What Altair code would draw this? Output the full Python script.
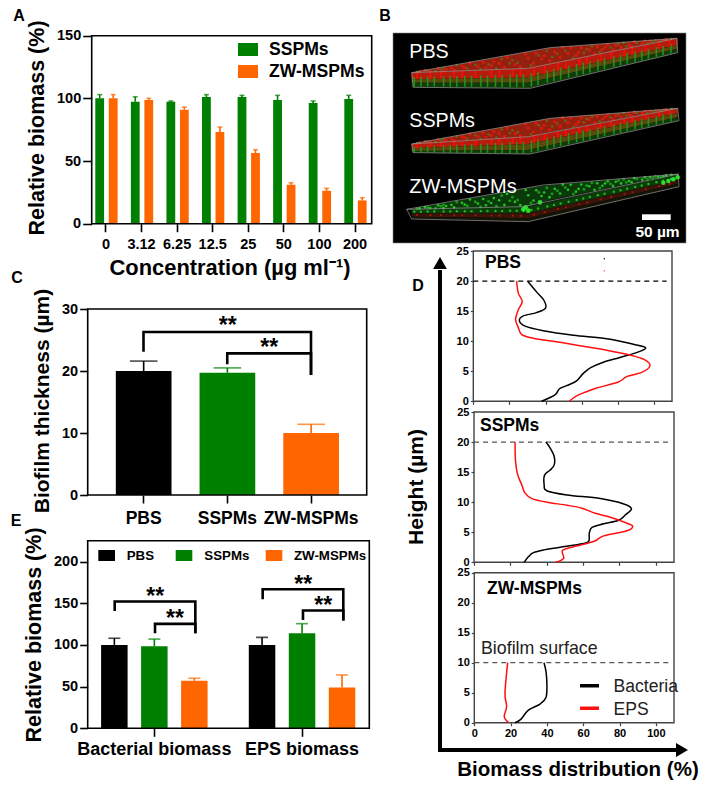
import altair as alt
import numpy as np
import pandas as pd

# ---------- values ----------
conc = ["0", "3.12", "6.25", "12.5", "25", "50", "100", "200"]
a_green = [100, 97.3, 97.3, 101, 101, 98.7, 96.3, 99.5]
a_green_err = [103, 101.3, 97.9, 103, 102.4, 102.4, 97.9, 102.4]
a_orange = [100, 98.7, 91, 73.1, 56.4, 31.1, 26.3, 18.6]
a_orange_err = [103, 100, 93, 77.1, 59, 32.7, 28.2, 20.7]

c_groups = ["PBS", "SSPMs", "ZW-MSPMs"]
c_vals = [20, 19.7, 10]
c_errs = [21.6, 20.5, 11.4]

e_groups = ["Bacterial biomass", "EPS biomass"]
e_pbs = [100, 100]
e_pbs_err = [108, 109]
e_ssp = [98.5, 114]
e_ssp_err = [107, 125.5]
e_zw = [57, 49]
e_zw_err = [60, 64]

d_pbs_bact_h = [0, 1.05, 2.05, 2.6, 3.4, 4.65, 5.6, 6.5, 7.3, 8.1, 8.9, 9.5, 10.4, 11, 11.75, 12.5, 13.4, 14.2, 14.75, 15.5, 16.85, 18.2, 20]
d_pbs_bact_v = [37.8, 45.2, 47.6, 51.7, 57.2, 60.9, 65, 72, 81.2, 90.4, 95.4, 88.6, 73.8, 55.4, 38.7, 28.6, 25.5, 27.7, 35, 40, 39, 35, 30]
d_pbs_eps_h = [0, 0.9, 1.6, 2.2, 3.2, 4.1, 4.8, 5.9, 6.9, 7.7, 8.5, 9.25, 9.9, 10.5, 11.1, 12.3, 13.6, 15.2, 16.6, 18, 20]
d_pbs_eps_v = [53.1, 57.2, 62.7, 68.3, 80.3, 84.9, 93.2, 97.8, 95, 86.7, 73.8, 59, 46, 33.2, 26.8, 24.9, 23.4, 24.9, 27.1, 24.9, 24]
d_ssp_bact_h = [0, 0.95, 1.6, 2.05, 2.5, 3.05, 3.45, 4.8, 5.8, 6.4, 7, 7.9, 8.9, 9.7, 10.6, 11.2, 11.9, 12.85, 14.5, 15.35, 16.2, 17.6, 19, 20]
d_ssp_bact_v = [27.6, 30, 32.7, 38.2, 47.4, 58.5, 63, 63.4, 64.9, 71.3, 79.6, 83.3, 86.6, 82.4, 69.5, 51.1, 40, 38.6, 38.8, 41.9, 44.1, 44.1, 41.9, 39.5]
d_ssp_eps_h = [0, 0.65, 1.95, 2.6, 3.45, 4.4, 5.25, 6, 6.5, 7.5, 8.15, 9, 9.5, 10, 10.6, 11.5, 12.85, 14.7, 17, 20]
d_ssp_eps_v = [44.9, 49.3, 48.7, 54.8, 65.8, 71.3, 84.2, 87.3, 84.2, 75, 66.7, 59.4, 51.1, 40, 31.8, 28.1, 26.3, 23.9, 22.8, 22.6]
d_zw_bact_h = [0, 0.55, 2.1, 3.1, 4.2, 6.3, 8.5, 10]
d_zw_bact_v = [22.4, 25.6, 29.8, 36.2, 39.5, 40, 39.5, 38.4]
d_zw_eps_h = [0, 1, 2.7, 4.9, 10]
d_zw_eps_v = [18.9, 16.5, 17.8, 16.9, 18.4]
d_pbs_dots_v = [72.5]
d_pbs_dots_black_h = [23.7]
d_pbs_dots_red_h = [21.7]

# brackets: position along the bars, height on the panel's value axis
c_br1_x = [0, 0, 2, 2]
c_br1_y = [23.1, 26.3, 26.3, 19.35]
c_br2_x = [1, 1, 2, 2]
c_br2_y = [21.1, 22.85, 22.85, 19.35]
e_br_x = [[0, 0, 2, 2], [1, 1, 2, 2], [3.67, 3.67, 5.67, 5.67], [4.67, 4.67, 5.67, 5.67]]
e_br_y = [[140.8, 152, 152, 114], [114, 125.2, 125.2, 114], [154.8, 166.8, 166.8, 129.2], [130, 141.2, 141.2, 129.2]]

# micrograph shapes, traced in the picture's own coordinates
pic_x = [95, 445, 893]
top_x = [95, 445, 510, 890]
slabs = {
    "PBS": dict(top1=[218, 155, 143, 115], top2=[218, 205, 192, 115],
                f=[[218, 205, 115], [238, 232, 135], [248, 248, 146], [262, 265, 158]]),
    "SSPMs": dict(top1=[432, 367, 355, 325], top2=[432, 410, 397, 325],
                  f=[[432, 410, 325], [445, 432, 340], [453, 450, 352], [458, 462, 362]]),
    "ZW": dict(top1=[628, 563, 555, 522], top2=[628, 620, 600, 522],
               f=[[628, 620, 522], [640, 640, 540], [650, 655, 552], [657, 665, 560]]),
}
outline_x = {"PBS": [95, 510, 890, 893, 450, 100, 95, 445, 890],
             "SSPMs": [95, 510, 893, 897, 450, 100, 95, 445, 893],
             "ZW": [80, 490, 895, 897, 445, 95, 80, 430, 895]}
outline_y = {"PBS": [218, 143, 115, 158, 265, 262, 218, 205, 115],
             "SSPMs": [432, 355, 325, 362, 462, 458, 432, 410, 325],
             "ZW": [628, 555, 522, 560, 665, 657, 628, 620, 522]}
# hand-placed texture marks: (position along slab, position across face)
top_marks = [(.03, .4), (.07, .7), (.1, .2), (.13, .55), (.16, .85), (.19, .35), (.22, .1), (.25, .6), (.28, .8),
             (.31, .3), (.33, .5), (.36, .15), (.39, .7), (.41, .9), (.44, .4), (.47, .2), (.49, .6), (.52, .8),
             (.54, .3), (.57, .05), (.59, .5), (.62, .75), (.64, .2), (.67, .45), (.69, .9), (.72, .6), (.74, .15),
             (.77, .35), (.79, .7), (.82, .5), (.84, .1), (.87, .65), (.9, .3), (.93, .5), (.96, .4), (.05, .15),
             (.12, .9), (.2, .6), (.27, .25), (.35, .85), (.43, .1), (.5, .42), (.56, .68), (.63, .55), (.7, .25),
             (.76, .85), (.83, .8), (.88, .15), (.95, .7), (.15, .45), (.3, .65), (.46, .75), (.6, .12), (.73, .38)]
top_marks2 = [(.02, .6), (.06, .3), (.09, .8), (.12, .25), (.17, .15), (.21, .75), (.24, .4), (.29, .5), (.32, .9),
              (.34, .2), (.38, .4), (.4, .6), (.45, .85), (.48, .35), (.51, .15), (.53, .6), (.58, .3), (.61, .9),
              (.65, .65), (.68, .15), (.71, .8), (.75, .5), (.78, .2), (.81, .65), (.85, .35), (.89, .75), (.92, .2),
              (.94, .85), (.98, .5), (.11, .5), (.26, .9), (.37, .6), (.55, .45), (.66, .35), (.8, .1), (.91, .6)]
streaks = [.01, .035, .06, .085, .12, .145, .17, .2, .225, .26, .285, .315, .34, .37, .395, .42, .45, .475, .51,
           .535, .56, .59, .62, .645, .67, .7, .725, .76, .785, .81, .84, .865, .89, .92, .945, .975]
red_streaks = [.02, .07, .11, .16, .19, .24, .3, .33, .38, .41, .46, .5, .55, .58, .63, .66, .71, .75, .8, .83, .88, .93, .97]

BLACK = "#000000"
GREEN = "#008000"
ORANGE = "#FF6600"
RED = "#FF1010"
FONT = "Liberation Sans"
W, H = 696, 774
M = 8
layers = []
one = pd.DataFrame({"a": [0]})


def X(v):
    return v - M


def Y(v):
    return v - M


def rect(x0, x1, y0, y1, **kw):
    layers.append(alt.Chart(one).mark_rect(**kw).encode(
        x=alt.value(X(x0)), x2=alt.value(X(x1)), y=alt.value(Y(y0)), y2=alt.value(Y(y1))))


def frame(x0, x1, y0, y1, color="black", width=1.6):
    rect(x0, x1, y0, y1, filled=False, stroke=color, strokeWidth=width)


def text(s, x, y, size=14, weight="bold", color="black", angle=0, align="center", baseline="middle"):
    kw = dict(fontSize=size, fontWeight=weight, font=FONT, color=color, align=align, baseline=baseline, text=s)
    if angle:
        kw["angle"] = angle
    layers.append(alt.Chart(one).mark_text(**kw).encode(x=alt.value(X(x)), y=alt.value(Y(y))))


def stars(x, y):
    text("**", x, y + 12.5, size=23, baseline="alphabetic")


def yaxis(x0, values, size, tick=8, color="black", width=1.6, pad=2):
    return alt.Axis(orient="left", offset=-X(x0), values=values, title=None, grid=False, domain=False,
                    tickSize=tick, tickWidth=width, tickColor=color, labelFont=FONT, labelFontWeight="bold",
                    labelFontSize=size, labelColor="black", labelPadding=pad, labelOverlap=False, labelBound=False,
                    labelFlush=False)


def band(cats, a, b):
    return alt.Scale(type="band", domain=cats, range=[X(a), X(b)], paddingInner=0, paddingOuter=0)


def bars(cats, domain, vals, errs, a, b, ysc, color, width, cap, errw=1.6):
    xsc = band(domain, a, b)
    df = pd.DataFrame({"c": cats, "v": vals, "e": errs})
    layers.append(alt.Chart(df).mark_rule(color=color, strokeWidth=errw).encode(
        x=alt.X("c:N", scale=xsc, sort=domain, axis=None), y=alt.Y("v:Q", scale=ysc, axis=None), y2="e:Q"))
    layers.append(alt.Chart(df).mark_tick(color=color, orient="horizontal", size=cap, thickness=errw).encode(
        x=alt.X("c:N", scale=xsc, sort=domain, axis=None), y=alt.Y("e:Q", scale=ysc, axis=None)))
    layers.append(alt.Chart(df).mark_bar(color=color, width=width).encode(
        x=alt.X("c:N", scale=xsc, sort=domain, axis=None), y=alt.Y("v:Q", scale=ysc, axis=None)))


def axes_only(cats, vals, xsc, ysc, axx, axy):
    df = pd.DataFrame({"c": cats, "v": vals})
    layers.append(alt.Chart(df).mark_point(opacity=0).encode(
        x=alt.X("c:N", scale=xsc, sort=cats, axis=axx), y=alt.Y("v:Q", scale=ysc, axis=axy)))


def path(xs, ys, xsc, ysc, color="black", width=2.6, dash=None, interp=None):
    df = pd.DataFrame({"x": xs, "y": ys, "o": range(len(xs))})
    kw = dict(color=color, strokeWidth=width, strokeJoin="miter", clip=False)
    if dash:
        kw["strokeDash"] = dash
    if interp:
        kw["interpolate"] = interp
        kw["strokeJoin"] = "round"
    layers.append(alt.Chart(df).mark_line(**kw).encode(
        x=alt.X("x:Q", scale=xsc, axis=None), y=alt.Y("y:Q", scale=ysc, axis=None), order="o:Q"))


def xaxis(y0, values=None, size=14.5, tick=8, color="black", width=1.6, pad=3, labels=True):
    kw = dict(orient="bottom", offset=Y(y0) - H, title=None, grid=False, domain=False, tickSize=tick,
              tickWidth=width, tickColor=color, labelAngle=0, labelFont=FONT, labelFontWeight="bold",
              labelFontSize=size, labelColor="black", labelPadding=pad, labelOverlap=False, labelBound=False,
              labelFlush=False, labelLimit=0, labels=labels)
    if values is not None:
        kw["values"] = values
    return alt.Axis(**kw)


# ---------- panel A ----------
ax0, ax1, ay0, ay1 = 91.7, 371.7, 223.7, 35.7
ya = alt.Scale(domain=[0, 150], range=[Y(ay0), Y(ay1)], zero=False, nice=False)
axes_only(conc, a_green, band(conc, 88.2, 372.8), ya, xaxis(ay0, size=14.5, pad=6),
          yaxis(ax0, [0, 50, 100, 150], 14.5, tick=9))
bars(conc, conc, a_green, a_green_err, 88.2 - 6.3, 372.8 - 6.3, ya, GREEN, 8.8, 5)
bars(conc, conc, a_orange, a_orange_err, 88.2 + 7.2, 372.8 + 7.2, ya, ORANGE, 8.8, 5)
frame(ax0, ax1, ay0, ay1)
rect(238, 258, 43, 56, fill=GREEN)
rect(238, 258, 65, 78, fill=ORANGE)
text("SSPMs", 269, 50, size=17.6, align="left")
text("ZW-MSPMs", 269, 72, size=17.6, align="left")
text("Relative biomass (%)", 38, 128, size=21.5, angle=270)
text("Concentration (µg ml⁻¹)", 230, 268, size=21.9)

# ---------- panel C ----------
cx0, cx1, cy0, cy1 = 87.7, 366.7, 495, 309
yc = alt.Scale(domain=[0, 30], range=[Y(cy0), Y(cy1)], zero=False, nice=False)
xbc = alt.Scale(domain=[0, 2], range=[X(143.5), X(311)], zero=False, nice=False)
axes_only(c_groups, c_vals, band(c_groups, 101.8, 353), yc, xaxis(cy0, size=17.5, tick=8, pad=6),
          yaxis(cx0, [0, 10, 20, 30], 14.5, tick=8))
for g, col in zip(range(3), [BLACK, GREEN, ORANGE]):
    bars([c_groups[g]], c_groups, [c_vals[g]], [c_errs[g]], 101.8, 353, yc, col, 55.7, 27.6)
frame(cx0, cx1, cy0, cy1)
path(c_br1_x, c_br1_y, xbc, yc)
path(c_br2_x, c_br2_y, xbc, yc)
stars(227.7, 320.7)
stars(269.3, 342.7)
text("Biofilm thickness (µm)", 43, 401, size=21, angle=270)

# ---------- panel E ----------
ex0, ex1, ey0, ey1 = 87.7, 369.3, 728.3, 540.7
ye = alt.Scale(domain=[0, 225], range=[Y(ey0), Y(ey1)], zero=False, nice=False)
xbe = alt.Scale(domain=[0, 5.67], range=[X(114.7), X(343.3)], zero=False, nice=False)
axes_only(e_groups, e_pbs, band(e_groups, 80.5, 375.9), ye, xaxis(ey0, size=18, tick=8, pad=4),
          yaxis(ex0, [0, 50, 100, 150, 200], 14.5, tick=8))
bars(e_groups, e_groups, e_pbs, e_pbs_err, 80.5 - 40, 375.9 - 40, ye, BLACK, 26.5, 12)
bars(e_groups, e_groups, e_ssp, e_ssp_err, 80.5, 375.9, ye, GREEN, 26.5, 12)
bars(e_groups, e_groups, e_zw, e_zw_err, 80.5 + 40, 375.9 + 40, ye, ORANGE, 26.5, 12)
frame(ex0, ex1, ey0, ey1)
for bx, by in zip(e_br_x, e_br_y):
    path(bx, by, xbe, ye)
stars(155.3, 591.7)
stars(175, 613.3)
stars(303.3, 579.3)
stars(323.3, 600)
rect(98.3, 115, 550, 561, fill=BLACK)
rect(175.7, 192.3, 550, 561, fill=GREEN)
rect(265.7, 282.3, 550, 561, fill=ORANGE)
text("PBS", 126.7, 556, size=13.3, align="left")
text("SSPMs", 204.3, 556, size=13.3, align="left")
text("ZW-MSPMs", 294, 556, size=13.3, align="left")
text("Relative biomass (%)", 35, 635, size=21.5, angle=270)

# ---------- panel B ----------
rect(393, 686, 33, 243, fill="#000000", stroke="#888888", strokeWidth=0.6)
px = alt.Scale(domain=[0, 996], range=[X(380), X(712)], zero=False, nice=False)
py = alt.Scale(domain=[0, 750], range=[Y(0), Y(250)], zero=False, nice=False)


def area(xs, y1, y2, color):
    df = pd.DataFrame({"x": xs, "y": y1, "y2": y2})
    layers.append(alt.Chart(df).mark_area(color=color).encode(
        x=alt.X("x:Q", scale=px, axis=None), y=alt.Y("y:Q", scale=py, axis=None), y2="y2:Q"))


def specks(xs, ys, color, size, opacity=0.9):
    df = pd.DataFrame({"x": xs, "y": ys})
    layers.append(alt.Chart(df).mark_point(filled=True, color=color, size=size, opacity=opacity, shape="circle").encode(
        x=alt.X("x:Q", scale=px, axis=None), y=alt.Y("y:Q", scale=py, axis=None)))


def ticks_down(xs, y1, y2, color, width, opacity=0.85):
    df = pd.DataFrame({"x": xs, "y": y1, "y2": y2})
    layers.append(alt.Chart(df).mark_rule(color=color, strokeWidth=width, opacity=opacity).encode(
        x=alt.X("x:Q", scale=px, axis=None), y=alt.Y("y:Q", scale=py, axis=None), y2="y2:Q"))


def face_marks(s, marks):
    xs = [95 + u * 795 for u, v in marks]
    ys = [np.interp(x, top_x, s["top1"]) * (1 - v) + np.interp(x, top_x, s["top2"]) * v
          for x, (u, v) in zip(xs, marks)]
    return xs, ys


for name in ["PBS", "SSPMs", "ZW"]:
    s = slabs[name]
    f = s["f"]
    if name == "ZW":
        area(top_x, s["top1"], s["top2"], "#0a3a0a")
        area(pic_x, f[0], f[1], "#0a3c0a")
        area(pic_x, f[1], f[2], "#3a1408")
        area(pic_x, f[2], f[3], "#141408")
        sx = [95 + u * 798 for u in streaks]
        xs, ys = face_marks(s, top_marks)
        specks(xs, ys, "#28d028", 7)
        xs, ys = face_marks(s, top_marks2)
        specks(xs, ys, "#18a018", 9)
        specks(sx, [np.interp(x, pic_x, f[0]) * .4 + np.interp(x, pic_x, f[1]) * .6 for x in sx], "#28c028", 6)
        specks([95 + u * 798 for u in red_streaks],
               [np.interp(95 + u * 798, pic_x, f[1]) * .5 + np.interp(95 + u * 798, pic_x, f[2]) * .5 for u in red_streaks],
               "#b01808", 5)
        specks([430, 437, 445, 480], [628, 622, 632, 607], "#30f030", 22)
    else:
        area(top_x, s["top1"], s["top2"], "#96200f")
        area(pic_x, f[0], f[1], "#b81a0e")
        area(pic_x, f[1], f[2], "#5a4a10")
        area(pic_x, f[2], f[3], "#103c0a")
        xs, ys = face_marks(s, top_marks)
        specks(xs, ys, "#d81c10", 12)
        xs, ys = face_marks(s, top_marks2)
        specks(xs, ys, "#5e6a18", 7)
        sx = [95 + u * 798 for u in streaks]
        ticks_down(sx, [np.interp(x, pic_x, f[0]) * .35 + np.interp(x, pic_x, f[1]) * .65 for x in sx],
                   [np.interp(x, pic_x, f[3]) * .8 + np.interp(x, pic_x, f[2]) * .2 for x in sx], "#22a01c", 1.6)
        rx = [95 + u * 798 for u in red_streaks]
        ticks_down(rx, [np.interp(x, pic_x, f[0]) for x in rx], [np.interp(x, pic_x, f[1]) for x in rx], "#f01208", 2.2)
    path(outline_x[name], outline_y[name], px, py, color="#9a9a9a", width=0.7)
specks([850, 865, 880, 893], [548, 543, 538, 532], "#30f030", 20)

text("PBS", 409.3, 52, size=19.7, weight="normal", color="white", align="left")
text("SSPMs", 409.3, 121, size=19.7, weight="normal", color="white", align="left")
text("ZW-MSPMs", 409.3, 186.7, size=20, weight="normal", color="white", align="left")
rect(642, 670.7, 214.3, 220, fill="white")
text("50 µm", 657.5, 232, size=15.5, color="white")

# ---------- panel D ----------
DCOL = "#444444"


def dpanel(x0, x1, y0, y1, surface, bact_h, bact_v, eps_h, eps_v, xlabels, dash_col):
    xs = alt.Scale(domain=[0, 110], range=[X(x0), X(x1)], zero=False, nice=False)
    ys = alt.Scale(domain=[0, 25], range=[Y(y0), Y(y1)], zero=False, nice=False)
    df = pd.DataFrame({"x": [0, 100], "y": [0, 0]})
    layers.append(alt.Chart(df).mark_line(opacity=0).encode(
        x=alt.X("x:Q", scale=xs, axis=xaxis(y0, values=[0, 20, 40, 60, 80, 100], size=11, tick=3, color=DCOL,
                                            width=1.2, pad=2, labels=xlabels)),
        y=alt.Y("y:Q", scale=ys, axis=yaxis(x0, [0, 5, 10, 15, 20, 25], 11, tick=3, color=DCOL, width=1.2, pad=2))))
    frame(x0, x1, y0, y1, color=DCOL, width=1.4)
    path([0, 107], [surface, surface], xs, ys, color=dash_col, width=1.2, dash=[5, 4])
    path(bact_v, bact_h, xs, ys, color="black", width=1.5, interp="cardinal")
    path(eps_v, eps_h, xs, ys, color=RED, width=1.5, interp="cardinal")
    return xs, ys


sx, sy = dpanel(473.3, 672, 401.3, 251, 20, d_pbs_bact_h, d_pbs_bact_v, d_pbs_eps_h, d_pbs_eps_v, False, "black")
for hs, col in [(d_pbs_dots_black_h, "black"), (d_pbs_dots_red_h, RED)]:
    layers.append(alt.Chart(pd.DataFrame({"x": d_pbs_dots_v, "y": hs})).mark_point(filled=True, color=col, size=2, opacity=1).encode(
        x=alt.X("x:Q", scale=sx, axis=None), y=alt.Y("y:Q", scale=sy, axis=None)))
dpanel(474, 674, 562.3, 412, 20, d_ssp_bact_h, d_ssp_bact_v, d_ssp_eps_h, d_ssp_eps_v, False, "#555555")
dpanel(474.3, 674, 722.7, 572.7, 10, d_zw_bact_h, d_zw_bact_v, d_zw_eps_h, d_zw_eps_v, True, "#555555")

text("PBS", 485, 263, size=17.5, align="left")
text("SSPMs", 480, 426, size=17.5, align="left")
text("ZW-MSPMs", 487, 589, size=17.5, align="left")
text("Biofilm surface", 481, 649, size=17.8, weight="normal", color="#222222", align="left")
rect(580, 599, 684, 687.5, fill="black")
rect(580, 599, 706.5, 710, fill=RED)
text("Bacteria", 613.5, 687, size=17.6, weight="normal", color="#222222", align="left")
text("EPS", 613.5, 710, size=17.6, weight="normal", color="#222222", align="left")

# big arrows
rect(438, 442, 270, 752, fill="black")
rect(438, 677, 748, 752, fill="black")
layers.append(alt.Chart(one).mark_point(shape="triangle-up", filled=True, color="black", size=190, opacity=1).encode(
    x=alt.value(X(440)), y=alt.value(Y(263))))
layers.append(alt.Chart(one).mark_point(shape="triangle-right", filled=True, color="black", size=190, opacity=1).encode(
    x=alt.value(X(682)), y=alt.value(Y(750))))
text("Height (µm)", 417, 487, size=21, angle=270)
text("Biomass distribution (%)", 578, 770, size=20.5)

# panel letters
text("A", 19, 16, size=16)
text("B", 385, 16, size=16)
text("C", 17, 278, size=16)
text("D", 418, 286, size=16)
text("E", 16, 521, size=16)

chart = (
    alt.layer(*layers)
    .resolve_scale(x="independent", y="independent")
    .properties(width=W, height=H, padding=0, autosize=alt.AutoSizeParams(type="none"))
    .configure_view(stroke=None)
)
chart.save("out.html", embed_options={"renderer": "svg", "actions": False})
